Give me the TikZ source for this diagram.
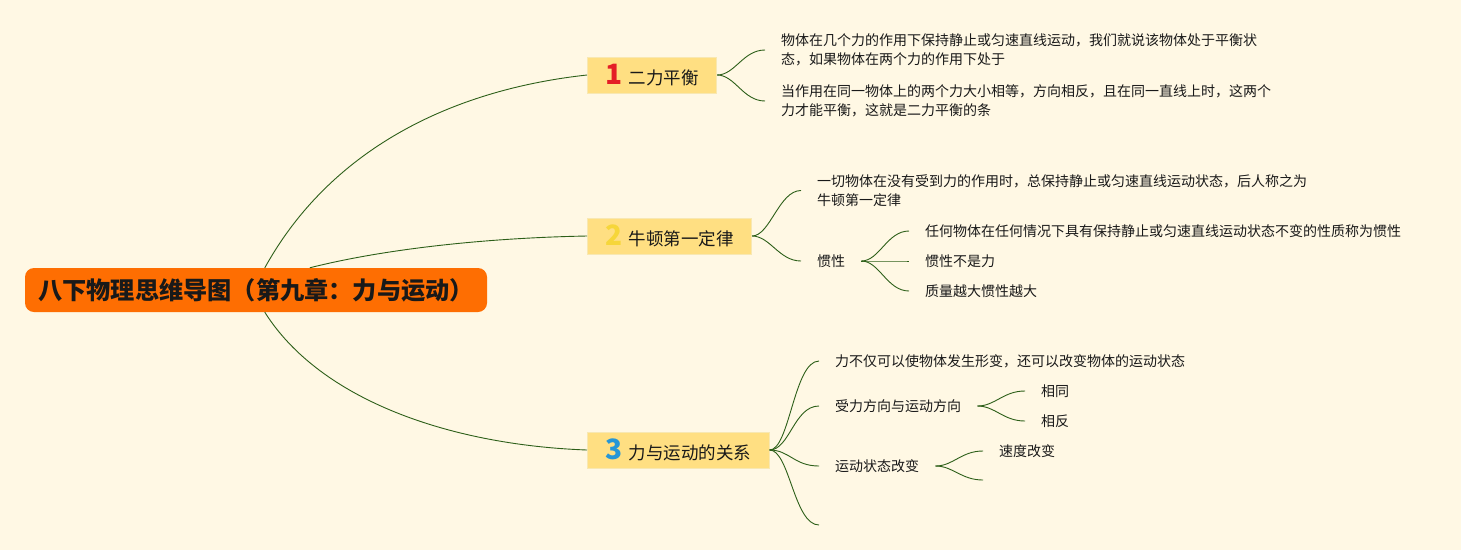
\documentclass[tikz,border=0pt]{standalone}
\usepackage{fontspec}
\setmainfont{Noto Sans CJK SC}
\usepackage{xcolor}
\definecolor{paper}{RGB}{255,248,228}
\definecolor{rootorange}{RGB}{254,110,2}
\definecolor{topicyellow}{RGB}{255,223,130}
\definecolor{topicedge}{RGB}{248,232,178}
\definecolor{linkgreen}{RGB}{45,95,25}
\definecolor{inkdark}{RGB}{25,25,25}
\definecolor{numred}{RGB}{228,30,38}
\definecolor{numyellow}{RGB}{246,214,58}
\definecolor{numblue}{RGB}{38,150,214}
\newcommand{\topicnum}[2]{{\fontsize{28}{28}\selectfont\bfseries\color{#1}#2}\hspace{6pt}}
\usepackage{tikz}
\usetikzlibrary{positioning, calc}

\begin{document}
\begin{tikzpicture}[x=1pt, y=-1pt,
    root/.style={fill=rootorange, rounded corners=9pt, minimum width=462pt, minimum height=44pt,
      text=inkdark, font=\fontsize{24.2}{28}\selectfont\bfseries},
    topic/.style={fill=topicyellow, draw=topicedge, line width=1pt, anchor=west, minimum height=36pt,
      inner xsep=18pt, inner ysep=0pt, text=inkdark, font=\fontsize{17.5}{20}\selectfont},
    sub/.style={anchor=west, inner xsep=16pt, inner ysep=2pt, align=left, text=inkdark,
      font=\fontsize{14}{19.5}\selectfont},
    link/.style={draw=linkgreen, line width=0.9pt}]
    \path[use as bounding box, fill=paper] (0,0) rectangle (1461,550);

    % root and main topics
    \node[root] (root) at (256,290) {八下物理思维导图（第九章：力与运动）};
    \node[topic] (balance) at (587,75) {\topicnum{numred}{1}二力平衡};
    \node[topic] (newton) at (587,236) {\topicnum{numyellow}{2}牛顿第一定律};
    \node[topic] (motion) at (587,450) {\topicnum{numblue}{3}力与运动的关系};

    \draw[link] ($(root.north west)+(240,0)$) .. controls (330,150) and (450,90) .. (balance.west);
    \draw[link] ($(root.north west)+(285,0)$) .. controls (380,250) and (480,238) .. (newton.west);
    \draw[link] ($(root.south west)+(240,0)$) .. controls (320,400) and (450,445) .. (motion.west);

    % 二力平衡
    \node[sub] (bal1) at (765,50) {物体在几个力的作用下保持静止或匀速直线运动，我们就说该物体处于平衡状\\态，如果物体在两个力的作用下处于};
    \node[sub] (bal2) at (765,101) {当作用在同一物体上的两个力大小相等，方向相反，且在同一直线上时，这两个\\力才能平衡，这就是二力平衡的条};
    \foreach \c in {bal1,bal2}
      \draw[link] (balance.east) .. controls +(18,0) and +(-22,0) .. (\c.west);

    % 牛顿第一定律
    \node[sub] (law) at (801,190.5) {一切物体在没有受到力的作用时，总保持静止或匀速直线运动状态，后人称之为\\牛顿第一定律};
    \node[sub] (inertia) at (801,261) {惯性};
    \node[sub] (in1) at (909,231) {任何物体在任何情况下具有保持静止或匀速直线运动状态不变的性质称为惯性};
    \node[sub] (in2) at (909,261) {惯性不是力};
    \node[sub] (in3) at (909,291) {质量越大惯性越大};
    \foreach \c in {law,inertia}
      \draw[link] (newton.east) .. controls +(18,0) and +(-22,0) .. (\c.west);
    \foreach \c in {in1,in2,in3}
      \draw[link] (inertia.east) .. controls +(18,0) and +(-22,0) .. (\c.west);

    % 力与运动的关系
    \node[sub] (deform) at (819,361) {力不仅可以使物体发生形变，还可以改变物体的运动状态};
    \node[sub] (direction) at (819,406) {受力方向与运动方向};
    \node[sub] (state) at (819,466) {运动状态改变};
    \coordinate (blank) at (819,525);
    \node[sub] (same) at (1025,391) {相同};
    \node[sub] (opposite) at (1025,421) {相反};
    \node[sub] (speed) at (983,451) {速度改变};
    \coordinate (blank2) at (983,480);
    \foreach \c in {deform,direction,state,blank}
      \draw[link] (motion.east) .. controls +(20,0) and +(-25,0) .. (\c.west);
    \foreach \c in {same,opposite}
      \draw[link] (direction.east) .. controls +(18,0) and +(-22,0) .. (\c.west);
    \foreach \c in {speed,blank2}
      \draw[link] (state.east) .. controls +(18,0) and +(-22,0) .. (\c.west);
\end{tikzpicture}
\end{document}
